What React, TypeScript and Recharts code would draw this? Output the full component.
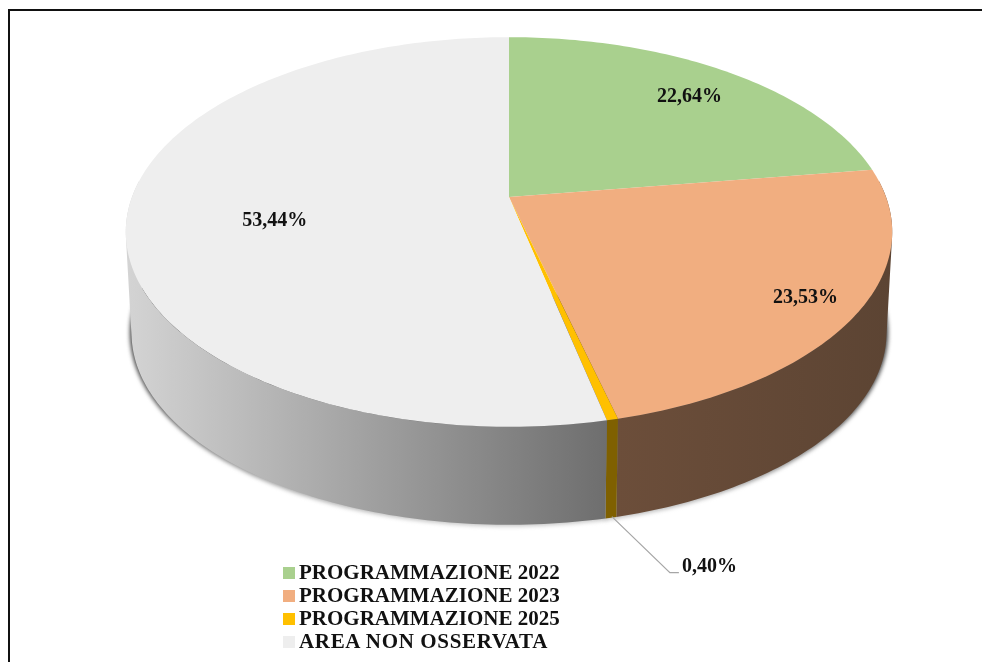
import React from "react";
import { PieChart, Pie, Legend } from "recharts";

const NAMES = ["PROGRAMMAZIONE 2022", "PROGRAMMAZIONE 2023", "PROGRAMMAZIONE 2025", "AREA NON OSSERVATA"];
const VALUES = [22.64, 23.53, 0.4, 53.44];
const LABELS = ["22,64%", "23,53%", "0,40%", "53,44%"];
const FACE = ["#A9D08E", "#F1AE80", "#FFC000", "#EEEEEE"];
const WALL_FROM = ["#5A6E4C", "#6C4E3A", "#7F6000", "#D4D4D4"];
const WALL_TO = ["#5A6E4C", "#5C4433", "#7F6000", "#6E6E6E"];
const LEGEND_TRACKING = [0, 0, 0, 0.65];

const rows = NAMES.map((name, i) => ({ name, value: VALUES[i], fill: FACE[i] }));

// Perspective view of the disc
const TILT = 0.5;
const KEY = 0.1795;
const DEPTH_SCALE = 0.985;
const DEPTH_SHIFT = 101.5;

type Pt = [number, number];
const project = (cx: number, cy: number, R: number, deg: number, r = 1, bottom = false): Pt => {
  const t = (deg * Math.PI) / 180;
  const u = r * Math.sin(t);
  const v = -r * Math.cos(t);
  const w = 1 - KEY * v;
  const x = (R * u) / w;
  const y = (R * TILT * v) / w;
  return bottom ? [cx + x * DEPTH_SCALE, cy + y * DEPTH_SCALE + DEPTH_SHIFT] : [cx + x, cy + y];
};

const arc = (cx: number, cy: number, R: number, a: number, b: number, bottom = false): Pt[] => {
  const n = Math.max(2, Math.ceil(Math.abs(b - a)));
  return Array.from({ length: n + 1 }, (_, i) => project(cx, cy, R, a + ((b - a) * i) / n, 1, bottom));
};
const path = (pts: Pt[]) => "M" + pts.map((p) => `${p[0].toFixed(2)},${p[1].toFixed(2)}`).join("L") + "Z";

const area = (q: Pt[]) =>
  q.reduce((s, p, i) => {
    const n = q[(i + 1) % q.length];
    return s + p[0] * n[1] - n[0] * p[1];
  }, 0);

const TopFace = (p: any) => {
  const a = 90 - p.startAngle;
  const b = 90 - p.endAngle;
  const pts: Pt[] = [[p.cx, p.cy], ...arc(p.cx, p.cy, p.outerRadius, a, b)];
  return <path d={path(pts)} fill={p.fill} stroke="none" />;
};

const Wall = (p: any) => {
  const i = NAMES.indexOf(p.name ?? p.payload?.name);
  const a = Math.max(90 - p.startAngle, 85);
  const b = Math.min(90 - p.endAngle, 275);
  if (a >= b) return <g />;
  const top = arc(p.cx, p.cy, p.outerRadius, a, b);
  const bot = arc(p.cx, p.cy, p.outerRadius, a, b, true);
  const quads = top.slice(0, -1).map((t, j) => {
    const q: Pt[] = [t, top[j + 1], bot[j + 1], bot[j]];
    return area(q) < 0 ? q.slice().reverse() : q;
  });
  const id = `wall-${i}`;
  const xs = [...top, ...bot].map((q) => q[0]);
  return (
    <g>
      <defs>
        <linearGradient id={id} gradientUnits="userSpaceOnUse" x1={Math.min(...xs)} x2={Math.max(...xs)} y1={0} y2={0}>
          <stop offset="0" stopColor={WALL_FROM[i]} />
          <stop offset="1" stopColor={WALL_TO[i]} />
        </linearGradient>
      </defs>
      <path d={quads.map(path).join("")} fill={`url(#${id})`} stroke="none" fillRule="nonzero" />
    </g>
  );
};

const Shadow = (p: any) => {
  const a = Math.max(90 - p.startAngle, 85);
  const b = Math.min(90 - p.endAngle, 275);
  if (a >= b) return <g />;
  const c = project(p.cx, p.cy, p.outerRadius, 0, 0, true);
  const pts: Pt[] = [c, ...arc(p.cx, p.cy, p.outerRadius, a, b, true)];
  const id = `shade-${p.name ?? p.payload?.name}`.replace(/\s/g, "");
  return (
    <g>
      <defs>
        <linearGradient id={id} gradientUnits="userSpaceOnUse" x1={0} x2={0} y1={320} y2={520}>
          <stop offset="0" stopColor="#333" />
          <stop offset="0.45" stopColor="#555" />
          <stop offset="1" stopColor="#c4c4c4" />
        </linearGradient>
      </defs>
      <path d={path(pts)} fill={`url(#${id})`} stroke={`url(#${id})`} strokeWidth={3} style={{ filter: "blur(2px)" }} />
    </g>
  );
};

const LABEL_R = [0.79, 0.86, 1, 0.62];
const LABEL_NUDGE: Pt[] = [[5, 0], [2, 0], [0, 0], [1, 9]];

const renderLabel = (p: any) => {
  const i = p.index;
  const deg = 90 - p.midAngle;
  const style = { fontFamily: "'Liberation Serif'", fontWeight: 700, fontSize: 20, fill: "#111" };
  if (i === 2) {
    const s = project(p.cx, p.cy, p.outerRadius, deg, 1, true);
    const bx = s[0] + 59;
    const by = s[1] + 55;
    return (
      <g>
        <path d={`M${s[0] + 1},${s[1] - 1}L${bx},${by}L${bx + 9},${by}`} fill="none" stroke="#A6A6A6" strokeWidth={1.2} />
        <text x={bx + 12} y={by - 8} dominantBaseline="central" textAnchor="start" style={style}>
          {LABELS[i]}
        </text>
      </g>
    );
  }
  const q = project(p.cx, p.cy, p.outerRadius, deg, LABEL_R[i]);
  return (
    <text x={q[0] + LABEL_NUDGE[i][0]} y={q[1] + LABEL_NUDGE[i][1]} dominantBaseline="central" textAnchor="middle" style={style}>
      {LABELS[i]}
    </text>
  );
};

const LegendBox = (props: any) => {
  const items = (props.payload ?? [])
    .filter((e: any) => e.type !== "none")
    .filter((e: any, i: number, all: any[]) => all.findIndex((o) => o.value === e.value) === i);
  return (
    <div>
      {items.map((e: any, i: number) => (
        <div key={e.value} style={{ height: 23, lineHeight: "23px", whiteSpace: "nowrap", position: "relative" }}>
          <span style={{ position: "absolute", left: 0, top: 6, width: 12, height: 12, background: e.color }} />
          <span
            style={{
              position: "absolute",
              left: 16,
              top: 0,
              color: "#111",
              fontFamily: "'Liberation Serif'",
              fontWeight: 700,
              fontSize: 21,
              letterSpacing: LEGEND_TRACKING[i],
            }}
          >
            {e.value}
          </span>
        </div>
      ))}
    </div>
  );
};

const pieProps = {
  data: rows,
  dataKey: "value",
  nameKey: "name",
  cx: 509,
  cy: 197,
  innerRadius: 0,
  outerRadius: 377,
  startAngle: 90,
  endAngle: -270,
  stroke: "none",
  isAnimationActive: false,
};

export default function App() {
  return (
    <div style={{ position: "absolute", left: 0, top: 0, width: 982, height: 662, overflow: "hidden", background: "#fff", filter: "blur(0.45px)" }}>
      <div style={{ position: "absolute", left: 8, top: 9, width: 980, height: 660, borderTop: "2px solid #111", borderLeft: "2px solid #111" }} />
      <div style={{ position: "absolute", left: 0, top: 0 }}>
        <PieChart width={982} height={662} margin={{ top: 0, right: 0, bottom: 0, left: 0 }}>
          <Pie {...pieProps} legendType="none" shape={Shadow} />
          <Pie {...pieProps} legendType="none" shape={Wall} />
          <Pie {...pieProps} legendType="square" shape={TopFace} label={renderLabel} labelLine={false} />
          <Legend
            layout="vertical"
            align="center"
            verticalAlign="bottom"
            itemSorter={null}
            wrapperStyle={{ left: 283, top: 561, width: 320, bottom: "auto" }}
            content={LegendBox}
          />
        </PieChart>
      </div>
    </div>
  );
}
